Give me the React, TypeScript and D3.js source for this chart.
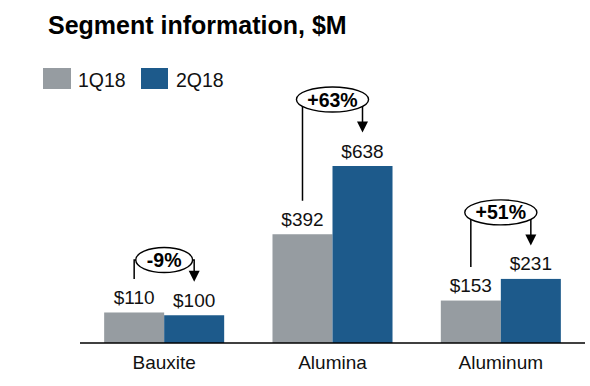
import React from "react";
import * as d3 from "d3";

const categories = ["Bauxite", "Alumina", "Aluminum"];
const series = ["1Q18", "2Q18"];
const values1Q18 = [110, 392, 153];
const values2Q18 = [100, 638, 231];
const changeLabels = ["-9%", "+63%", "+51%"];

const W = 590;
const H = 386;
const FONT = "'Liberation Sans', Arial, Helvetica, sans-serif";
const GRAY = "#969ca1";
const BLUE = "#1d5a8b";
const COLORS = [GRAY, BLUE];

function measure(text: string, font: string): number {
  if (typeof document === "undefined") return text.length * 10;
  const c = document.createElement("canvas");
  const ctx = c.getContext("2d");
  if (!ctx) return text.length * 10;
  ctx.font = font;
  return ctx.measureText(text).width;
}

export default function App() {
  const x = d3.scaleBand<string>().domain(categories).range([80, 585]).paddingInner(0.287).paddingOuter(0.1435);
  const xs = d3.scaleBand<string>().domain(series).range([0, x.bandwidth()]);
  const y = d3.scaleLinear().domain([0, 638]).range([343, 166]);
  const data = [values1Q18, values2Q18];

  return (
    <svg width={W} height={H} style={{ position: "absolute", left: 0, top: 0, background: "#fff" }} fontFamily={FONT}>
      <rect width={W} height={H} fill="#fff" />
      <text x={48} y={34} fontSize={25} fontWeight="bold" fill="#000">Segment information, $M</text>
      {series.map((s, i) => {
        const lx = i === 0 ? 43 : 141;
        return (
          <g key={s}>
            <rect x={lx} y={68} width={i === 0 ? 28 : 27} height={21} fill={COLORS[i]} />
            <text x={lx + 35} y={87} fontSize={19.5} fill="#111">{s}</text>
          </g>
        );
      })}
      {categories.map((c, ci) => (
        <g key={c}>
          {series.map((s, si) => {
            const v = data[si][ci];
            const bx = (x(c) ?? 0) + (xs(s) ?? 0);
            return (
              <g key={s}>
                <rect x={bx} y={y(v)} width={xs.bandwidth()} height={y(0) - y(v)} fill={COLORS[si]} />
                <text x={bx + xs.bandwidth() / 2} y={y(v) - 8.5} fontSize={19} textAnchor="middle" fill="#111">{"$" + v}</text>
              </g>
            );
          })}
          <text x={(x(c) ?? 0) + x.bandwidth() / 2} y={369} fontSize={19} textAnchor="middle" fill="#111">{c}</text>
        </g>
      ))}
      <line x1={80} x2={585} y1={y(0)} y2={y(0)} stroke="#000" strokeWidth={1.5} />
      {categories.map((c, ci) => {
        const v1 = values1Q18[ci];
        const v2 = values2Q18[ci];
        const x1 = (x(c) ?? 0) + (xs(series[0]) ?? 0) + xs.bandwidth() / 2;
        const x2 = (x(c) ?? 0) + (xs(series[1]) ?? 0) + xs.bandwidth() / 2;
        const end1 = y(v1) - 33.5;
        const end2 = y(v2) - 33.5;
        const top = Math.min(end1, end2);
        const small = Math.abs(v2 - v1) / v1 < 0.1;
        const cy = top - (small ? 19 : 33);
        const cx = (x(c) ?? 0) + x.bandwidth() / 2;
        const label = changeLabels[ci];
        const tw = measure(label, `bold 19px ${FONT}`);
        const rx = tw / 2 + 11.5;
        const ry = 12.5;
        return (
          <g key={"a" + c}>
            <path d={`M${x1},${end1}V${cy}H${cx}`} fill="none" stroke="#000" strokeWidth={1.5} />
            <path d={`M${cx},${cy}H${x2}V${end2 - 10}`} fill="none" stroke="#000" strokeWidth={1.5} />
            <path d={`M${x2 - 5.5},${end2 - 11}L${x2 + 5.5},${end2 - 11}L${x2},${end2}Z`} fill="#000" />
            <ellipse cx={cx} cy={cy} rx={rx} ry={ry} fill="#fff" stroke="#000" strokeWidth={1.4} />
            <text x={cx} y={cy + 7} fontSize={19.5} fontWeight="bold" textAnchor="middle" fill="#000">{label}</text>
          </g>
        );
      })}
    </svg>
  );
}
